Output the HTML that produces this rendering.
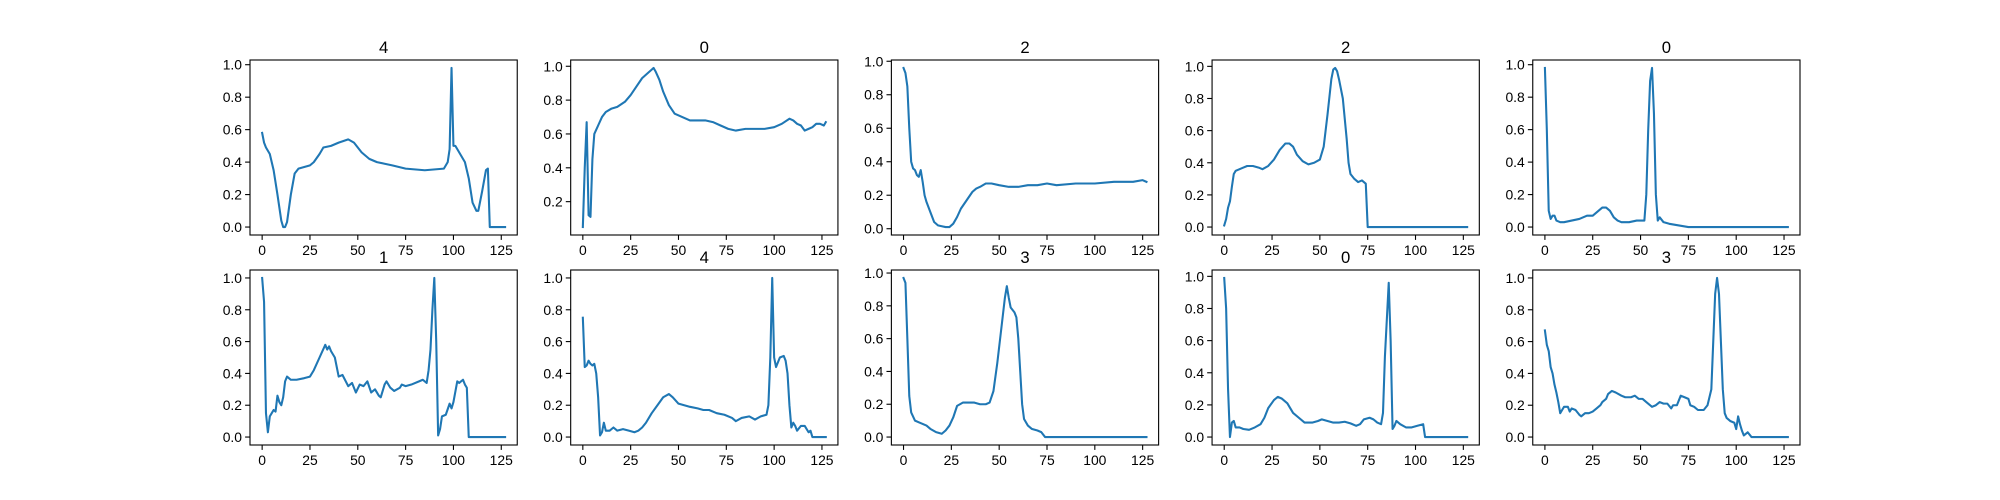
<!DOCTYPE html>
<html><head><meta charset="utf-8"><style>
html,body{margin:0;padding:0;background:#fff;}
svg{display:block;font-family:"Liberation Sans","DejaVu Sans",sans-serif;}
</style></head><body>
<svg id="fig" width="2000" height="500" viewBox="0 0 2000 500" xmlns="http://www.w3.org/2000/svg"></svg>
<script>
const titles = ["4","0","2","2","0","1","4","3","0","3"];
const xTicks = [0,25,50,75,100,125];
const s1 = [[0,.58],[1,.52],[2,.49],[4,.45],[6,.35],[8,.2],[10,.04],[11,0],[12,0],[13,.03],[15,.2],[17,.33],[19,.36],[22,.37],[25,.38],[27,.4],[30,.45],[32,.49],[36,.5],[40,.52],[45,.54],[48,.52],[52,.46],[56,.42],[60,.4],[64,.39],[68,.38],[75,.36],[85,.35],[95,.36],[97,.4],[98,.48],[99,.98],[100,.5],[101,.5],[103,.46],[106,.4],[108,.3],[110,.15],[112,.1],[113,.1],[115,.22],[117,.35],[118,.36],[119,0],[127,0]];
const s2 = [[0,.05],[1,.4],[2,.67],[3,.12],[4,.11],[5,.45],[6,.6],[8,.65],[10,.7],[12,.73],[15,.75],[18,.76],[22,.79],[25,.83],[28,.88],[31,.93],[34,.96],[36,.98],[37,.99],[38,.97],[40,.92],[42,.85],[45,.77],[48,.72],[52,.7],[56,.68],[60,.68],[64,.68],[68,.67],[72,.65],[76,.63],[80,.62],[85,.63],[90,.63],[95,.63],[100,.64],[104,.66],[108,.69],[110,.68],[112,.66],[114,.65],[116,.62],[118,.63],[120,.64],[122,.66],[124,.66],[126,.65],[127,.67]];
const s3 = [[0,.96],[1,.93],[2,.85],[3,.6],[4,.4],[5,.36],[6,.35],[7,.32],[8,.31],[9,.35],[10,.28],[11,.2],[12,.16],[14,.1],[16,.04],[18,.02],[20,.015],[22,.01],[24,.01],[26,.03],[28,.07],[30,.12],[33,.17],[36,.22],[38,.24],[40,.25],[43,.27],[46,.27],[50,.26],[55,.25],[60,.25],[65,.26],[70,.26],[75,.27],[80,.26],[90,.27],[100,.27],[110,.28],[120,.28],[125,.29],[127,.28]];
const s4 = [[0,.01],[1,.05],[2,.12],[3,.16],[4,.25],[5,.33],[6,.35],[8,.36],[10,.37],[12,.38],[15,.38],[18,.37],[20,.36],[23,.38],[26,.42],[29,.48],[32,.52],[34,.52],[36,.5],[38,.45],[41,.41],[44,.39],[47,.4],[50,.42],[52,.5],[54,.7],[56,.92],[57,.98],[58,.99],[59,.97],[60,.92],[62,.8],[64,.55],[65,.4],[66,.33],[68,.3],[70,.28],[72,.29],[73,.28],[74,.27],[75,0],[80,0],[90,0],[100,0],[110,0],[127,0]];
const s5 = [[0,.98],[1,.6],[2,.1],[3,.05],[4,.07],[5,.07],[6,.04],[8,.03],[10,.03],[14,.04],[18,.05],[22,.07],[25,.07],[28,.1],[30,.12],[32,.12],[34,.1],[36,.06],[38,.04],[40,.03],[44,.03],[48,.04],[50,.04],[52,.04],[53,.2],[54,.6],[55,.9],[56,.98],[57,.7],[58,.2],[59,.04],[60,.06],[62,.03],[65,.02],[70,.01],[75,0],[90,0],[110,0],[127,0]];
const s6 = [[0,1],[1,.85],[2,.15],[3,.03],[4,.13],[5,.15],[6,.17],[7,.16],[8,.26],[9,.22],[10,.2],[11,.25],[12,.35],[13,.38],[15,.36],[18,.36],[22,.37],[25,.38],[27,.42],[30,.5],[33,.58],[34,.55],[35,.57],[36,.54],[38,.5],[40,.38],[42,.39],[45,.32],[47,.34],[49,.28],[51,.33],[53,.32],[55,.35],[57,.28],[59,.3],[61,.26],[62,.25],[64,.33],[65,.35],[67,.31],[69,.29],[72,.31],[73,.33],[75,.32],[78,.33],[82,.35],[84,.36],[86,.34],[87,.42],[88,.55],[89,.8],[90,1],[91,.6],[92,.01],[93,.05],[94,.13],[96,.14],[98,.21],[99,.18],[100,.22],[102,.35],[103,.34],[104,.35],[105,.36],[106,.33],[107,.31],[108,0],[127,0]];
const s7 = [[0,.75],[1,.44],[2,.45],[3,.48],[4,.46],[5,.45],[6,.46],[7,.4],[8,.25],[9,.01],[10,.03],[11,.09],[12,.04],[14,.04],[16,.06],[18,.04],[21,.05],[24,.04],[27,.03],[29,.04],[31,.06],[33,.09],[36,.15],[39,.2],[42,.25],[45,.27],[47,.25],[50,.21],[53,.2],[56,.19],[60,.18],[63,.17],[66,.17],[70,.15],[74,.14],[78,.12],[80,.1],[83,.12],[87,.13],[90,.11],[93,.13],[96,.14],[97,.2],[98,.5],[99,1],[100,.5],[101,.44],[103,.5],[105,.51],[106,.48],[107,.4],[108,.2],[109,.06],[110,.09],[111,.07],[112,.04],[114,.07],[116,.07],[118,.03],[119,.04],[120,0],[127,0]];
const s8 = [[0,.97],[1,.94],[2,.6],[3,.25],[4,.15],[6,.1],[8,.09],[10,.08],[12,.07],[14,.05],[17,.03],[20,.02],[22,.04],[24,.07],[26,.12],[28,.19],[31,.21],[34,.21],[37,.21],[40,.2],[43,.2],[45,.21],[47,.28],[49,.45],[51,.65],[53,.85],[54,.92],[55,.85],[56,.79],[58,.76],[59,.73],[60,.6],[61,.4],[62,.2],[63,.11],[65,.07],[67,.05],[70,.04],[72,.03],[74,0],[80,0],[127,0]];
const s9 = [[0,.99],[1,.8],[2,.3],[3,0],[4,.09],[5,.1],[6,.06],[8,.06],[10,.05],[13,.045],[16,.06],[19,.08],[21,.12],[23,.18],[26,.23],[28,.25],[30,.24],[33,.21],[36,.15],[39,.12],[42,.09],[46,.09],[49,.1],[51,.11],[54,.1],[57,.09],[60,.09],[63,.095],[66,.085],[69,.07],[71,.08],[73,.11],[76,.12],[78,.11],[80,.09],[82,.08],[83,.15],[84,.5],[86,.96],[87,.6],[88,.05],[89,.07],[90,.1],[92,.08],[95,.06],[98,.06],[101,.07],[104,.08],[105,0],[127,0]];
const s10 = [[0,.67],[1,.58],[2,.54],[3,.44],[4,.4],[5,.33],[6,.28],[7,.22],[8,.15],[9,.17],[10,.19],[12,.19],[13,.16],[14,.18],[16,.17],[18,.14],[19,.13],[21,.15],[23,.15],[25,.16],[27,.18],[29,.2],[30,.22],[32,.24],[33,.27],[35,.29],[37,.28],[40,.26],[42,.25],[45,.25],[47,.26],[49,.24],[51,.24],[53,.22],[56,.19],[58,.2],[60,.22],[62,.21],[64,.21],[66,.18],[67,.2],[69,.2],[71,.26],[73,.25],[75,.24],[76,.2],[78,.19],[80,.17],[83,.17],[85,.2],[87,.3],[88,.6],[89,.9],[90,1],[91,.9],[92,.6],[93,.3],[94,.15],[95,.12],[97,.1],[99,.09],[100,.05],[101,.13],[102,.08],[103,.04],[104,.01],[106,.03],[108,0],[127,0]];
const series = [s1,s2,s3,s4,s5,s6,s7,s8,s9,s10];

const NS = "http://www.w3.org/2000/svg";
const fig = document.getElementById('fig');
function mk(tag, attrs, parent) {
  const e = document.createElementNS(NS, tag);
  for (const k in attrs) e.setAttribute(k, attrs[k]);
  parent.appendChild(e);
  return e;
}
const W = 1550 / 5.8, GX = W * 0.2, H = 175, GY = 35;
series.forEach((data, i) => {
  const col = i % 5, row = Math.floor(i / 5);
  const L = 250 + col * (W + GX), T = 60 + row * (H + GY);
  const xs = data.map(d => d[0]), ys = data.map(d => d[1]);
  const x0 = Math.min(...xs), x1 = Math.max(...xs);
  const y0 = Math.min(...ys), y1 = Math.max(...ys);
  const xmin = x0 - (x1 - x0) * 0.05, xmax = x1 + (x1 - x0) * 0.05;
  const ymin = y0 - (y1 - y0) * 0.05, ymax = y1 + (y1 - y0) * 0.05;
  const sx = v => L + (v - xmin) / (xmax - xmin) * W;
  const sy = v => T + H - (v - ymin) / (ymax - ymin) * H;
  const g = mk('g', {}, fig);
  
  
  const t = mk('text', {x: L + W / 2, y: T - 7, 'text-anchor': 'middle', 'font-size': '16.7', fill: '#000'}, g);
  t.textContent = titles[i];
  
  
  const line = mk('polyline', {points: data.map(d => sx(d[0]).toFixed(2) + ',' + sy(d[1]).toFixed(2)).join(' '), fill: 'none', stroke: '#1f77b4', 'stroke-width': '2.08', 'stroke-linejoin': 'round', 'stroke-linecap': 'square'}, g);
  
  
  const frame = mk('rect', {x: L, y: T, width: W, height: H, fill: 'none', stroke: '#000', 'stroke-width': '1.1'}, g);
  
  
  xTicks.forEach(v => {
    const X = sx(v);
    mk('line', {x1: X, x2: X, y1: T + H, y2: T + H + 4.9, stroke: '#000', 'stroke-width': '1.1'}, g);
    const tl = mk('text', {x: X, y: T + H + 20, 'text-anchor': 'middle', 'font-size': '13.9', fill: '#000'}, g);
    tl.textContent = v;
    
    
  });
  for (let k = Math.ceil(ymin / 0.2 - 1e-9); k * 0.2 <= ymax + 1e-9; k++) {
    const v = k * 0.2, Y = sy(v);
    mk('line', {x1: L - 4.9, x2: L, y1: Y, y2: Y, stroke: '#000', 'stroke-width': '1.1'}, g);
    const yl = mk('text', {x: L - 8, y: Y + 5, 'text-anchor': 'end', 'font-size': '13.9', fill: '#000'}, g);
    yl.textContent = v.toFixed(1);
    
    
  }
});
</script>
</body></html>
